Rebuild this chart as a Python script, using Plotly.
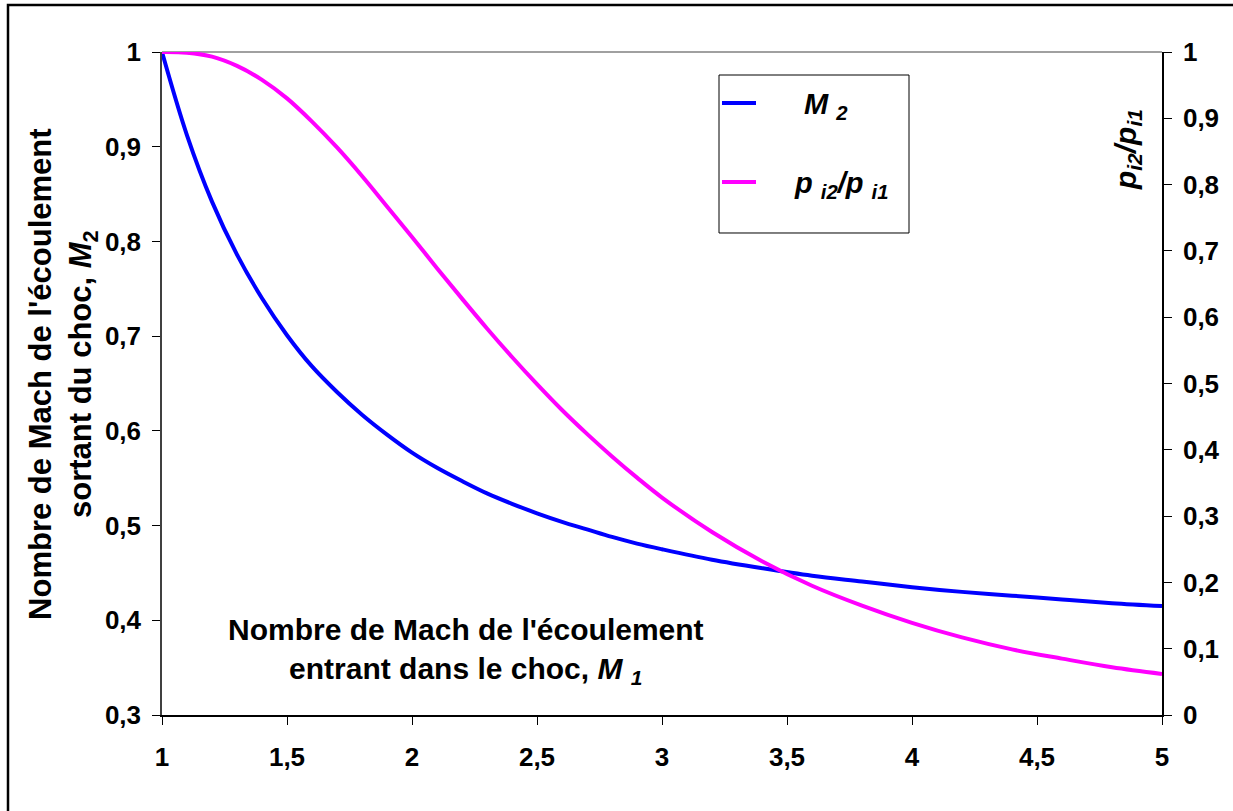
import plotly.graph_objects as go

# Incoming Mach number M1
m1 = [1.0, 1.1, 1.2, 1.3, 1.4, 1.5, 1.6, 1.7, 1.8, 1.9, 2.0, 2.1, 2.2, 2.3, 2.4, 2.5,
      2.6, 2.7, 2.8, 2.9, 3.0, 3.2, 3.4, 3.6, 3.8, 4.0, 4.2, 4.4, 4.6, 4.8, 5.0]
# Outgoing Mach number M2
m2 = [1.0, 0.912, 0.842, 0.786, 0.740, 0.701, 0.668, 0.641, 0.617, 0.596, 0.577, 0.561,
      0.547, 0.534, 0.523, 0.513, 0.504, 0.496, 0.488, 0.481, 0.475, 0.464, 0.455, 0.447,
      0.441, 0.435, 0.430, 0.426, 0.422, 0.418, 0.415]
# Stagnation pressure ratio pi2/pi1
pratio = [1.0, 0.999, 0.993, 0.979, 0.958, 0.930, 0.895, 0.856, 0.813, 0.767, 0.721, 0.674,
          0.628, 0.583, 0.540, 0.499, 0.460, 0.424, 0.390, 0.358, 0.328, 0.276, 0.232, 0.195,
          0.165, 0.139, 0.117, 0.099, 0.085, 0.072, 0.062]

FONT = "Arial, 'Liberation Sans', sans-serif"

fig = go.Figure()
fig.add_trace(go.Scatter(x=m1, y=m2, mode="lines", name="M2",
                         line=dict(color="#0000FF", width=4, shape="spline"),
                         yaxis="y"))
fig.add_trace(go.Scatter(x=m1, y=pratio, mode="lines", name="pi2/pi1",
                         line=dict(color="#FF00FF", width=4, shape="spline"),
                         yaxis="y2"))

tickfont = dict(family=FONT, size=26, color="black", weight="bold")

fig.update_layout(
    width=1233, height=811,
    margin=dict(l=162, r=71, t=52, b=96),
    paper_bgcolor="white", plot_bgcolor="white",
    showlegend=False,
    separators=",.",
    font=dict(family=FONT, color="black"),
    xaxis=dict(range=[1, 5], dtick=0.5, tick0=1, showgrid=False, zeroline=False,
               showline=True, linecolor="black", linewidth=1.5,
               ticks="outside", ticklen=8, tickcolor="black", tickwidth=1,
               tickfont=tickfont, ticklabelstandoff=10),
    yaxis=dict(range=[0.3, 1], dtick=0.1, tick0=0.3, showgrid=False, zeroline=False,
               showline=True, linecolor="#404040", linewidth=1.5,
               ticks="outside", ticklen=8, tickcolor="black", tickwidth=1,
               tickfont=tickfont, ticklabelstandoff=6),
    yaxis2=dict(range=[0, 1], dtick=0.1, tick0=0, overlaying="y", side="right",
                showgrid=False, zeroline=False,
                showline=True, linecolor="black", linewidth=1.5,
                ticks="outside", ticklen=8, tickcolor="black", tickwidth=1,
                tickfont=tickfont, ticklabelstandoff=6),
)

shapes = [
    # outer chart border
    dict(type="rect", xref="paper", yref="paper", x0=-0.154, x1=1.09, y0=-0.17, y1=1.0709,
         line=dict(color="black", width=2.5), layer="above"),
    # top plot border
    dict(type="line", xref="paper", yref="paper", x0=0, x1=1, y0=1, y1=1,
         line=dict(color="#A0A0A0", width=2), layer="below"),
    # legend box
    dict(type="rect", xref="paper", yref="paper", x0=0.557, x1=0.747, y0=0.727, y1=0.9653,
         line=dict(color="black", width=1), fillcolor="white", layer="above"),
    # legend samples
    dict(type="line", xref="paper", yref="paper", x0=0.560, x1=0.594, y0=0.923, y1=0.923,
         line=dict(color="#0000FF", width=4), layer="above"),
    dict(type="line", xref="paper", yref="paper", x0=0.560, x1=0.594, y0=0.804, y1=0.804,
         line=dict(color="#FF00FF", width=4), layer="above"),
]
fig.update_layout(shapes=shapes)

annots = [
    dict(text="<b><i>M <sub>2</sub></i></b>", x=0.664, y=0.918, xref="paper", yref="paper",
         showarrow=False, font=dict(family=FONT, size=29, color="black"),
         xanchor="center", yanchor="middle"),
    dict(text="<b><i>p <sub>i2</sub>/p <sub>i1</sub></i></b>", x=0.679, y=0.800,
         xref="paper", yref="paper", showarrow=False,
         font=dict(family=FONT, size=29, color="black"),
         xanchor="center", yanchor="middle"),
    dict(text="<b><i>p<sub>i2</sub>/p<sub>i1</sub></i></b>", x=0.965, y=0.852,
         xref="paper", yref="paper", showarrow=False, textangle=-90,
         font=dict(family=FONT, size=30, color="black"),
         xanchor="center", yanchor="middle"),
    dict(text="<b>Nombre de Mach de l'écoulement<br>sortant du choc, <i>M</i><sub>2</sub></b>",
         x=-0.099, y=0.513, xref="paper", yref="paper", showarrow=False, textangle=-90,
         font=dict(family=FONT, size=31, color="black"),
         xanchor="center", yanchor="middle"),
    dict(text="<b>Nombre de Mach de l'écoulement<br>entrant dans le choc, <i>M <sub>1</sub></i></b>",
         x=0.304, y=0.0965, xref="paper", yref="paper", showarrow=False,
         font=dict(family=FONT, size=30, color="black"),
         xanchor="center", yanchor="middle"),
]
fig.update_layout(annotations=annots)

fig.write_html("out.html",
               config={"displayModeBar": False},
               post_script="document.body.style.margin='0';document.body.style.overflow='hidden';")
